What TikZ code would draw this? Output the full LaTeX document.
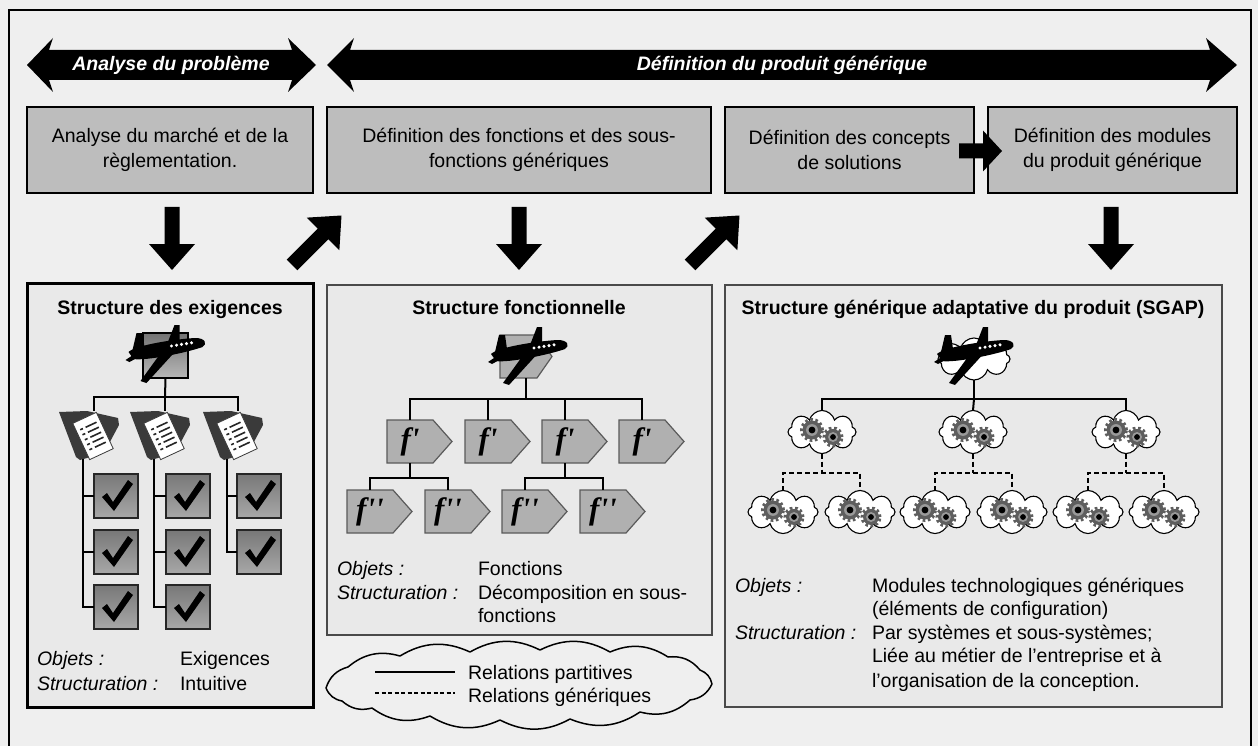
\documentclass[tikz,border=0pt]{standalone}
\usepackage{fontspec}
\setmainfont{Liberation Sans}
\newfontfamily\fserif{Liberation Serif}
\usetikzlibrary{shapes.symbols,calc}

\definecolor{bg}{HTML}{EFEFEF}
\definecolor{panelfill}{HTML}{E9E9E9}
\definecolor{stepgray}{HTML}{BDBDBD}
\definecolor{fgray}{HTML}{B0B0B0}
\definecolor{fborder}{HTML}{5A5A5A}
\definecolor{geargray}{HTML}{5E5E5E}
\definecolor{gearlight}{HTML}{9A9A9A}
\definecolor{docdark}{HTML}{3A3A3A}
\definecolor{ckdark}{HTML}{787878}
\definecolor{cklight}{HTML}{A8A8A8}
\definecolor{pbord}{HTML}{4A4A4A}

% block arrow along a direction: start, angle, length, head length, head half-width
\newcommand{\flowarrow}[5]{%
  \fill[shift={#1}, rotate=#2] (0,-7.5) -- (#3-#4,-7.5) -- (#3-#4,-#5) -- (#3,0)
    -- (#3-#4,#5) -- (#3-#4,7.5) -- (0,7.5) -- cycle;}

% function block: name, x, y, label
\newcommand{\fblock}[4]{%
  \filldraw[fill=fgray, draw=fborder, line width=1.2pt]
    (#2-23,#3-21.5) -- (#2+23,#3-21.5) -- (#2+42,#3) -- (#2+23,#3+21.5) -- (#2-23,#3+21.5) -- cycle;
  \node[ftxt] (#1) at (#2,#3) {#4};}

\tikzset{
  stepbox/.style={draw=black, line width=1.3pt, fill=stepgray, minimum height=86pt,
    align=center, font=\fontsize{19.5pt}{25pt}\selectfont},
  phase/.style={text=white, font=\fontsize{19.5pt}{23.5pt}\selectfont\bfseries\itshape},
  heading/.style={anchor=base, font=\fontsize{19.5pt}{23.5pt}\selectfont\bfseries},
  desc/.style={anchor=base west, font=\fontsize{19.5pt}{23.5pt}\selectfont},
  descit/.style={anchor=base west, font=\fontsize{19.5pt}{23.5pt}\selectfont\itshape},
  link/.style={line width=2pt, draw=black},
  genlink/.style={line width=2pt, draw=black, dash pattern=on 5pt off 3pt},
  checkbox/.style={draw=black!85, line width=2.2pt, top color=ckdark, bottom color=cklight,
    minimum width=44pt, minimum height=44pt},
  ftxt/.style={minimum width=46pt, minimum height=43pt,
    font=\fserif\bfseries\itshape\fontsize{31pt}{31pt}\selectfont},
  gcloud/.style={cloud, cloud puffs=8, cloud ignores aspect, draw=black, line width=1.1pt,
    fill=white, minimum width=70pt, minimum height=43pt},
  plane/.pic={
    \fill[black] (-37,-5) .. controls (-30,-12) and (10,-18) .. (30,-19)
      .. controls (40,-19) and (42,-13) .. (37,-10)
      .. controls (20,-4) and (-20,4) .. (-32,2) -- cycle;
    \fill[black] (-33,-7) -- (-29,-24) -- (-23,-24) -- (-21,-10) -- cycle;
    \fill[black] (2,-14) -- (9,-32) -- (14,-32) -- (14,-16) -- cycle;
    \fill[black] (-4,-5) -- (-25,24) -- (-19,26) -- (12,-8) -- cycle;
    \fill[black] (-31,-3) -- (-40,3) -- (-36,5) -- (-25,-1) -- cycle;
    \foreach \i in {0,...,4} \fill[white] (6+5*\i,-11-0.8*\i) circle[radius=1.7pt];
  },
  clipdoc/.pic={
    \fill[docdark] (-30,-23) -- (-2,-24) -- (29,-17) -- (30,-10) -- (15,18) -- (-9,25) -- (-13,22) -- cycle;
    \begin{scope}[shift={(4,1)}, rotate=25]
      \filldraw[fill=white, draw=docdark, line width=0.8pt] (-13,-20) rectangle (13,20);
      \foreach \yy in {-11,-5.5,0,5.5,11} {
        \draw[line width=1.6pt, black!85] (-9,\yy) -- (-6,\yy);
        \draw[line width=1.6pt, black!85] (-3,\yy) -- (9,\yy);}
    \end{scope}
  },
  tick/.pic={
    \fill[black] (-15,1) -- (-10,-3) -- (-4,6) -- (11,-16) -- (16,-12) -- (-3,15) -- cycle;
  },
  gear/.pic={
    \draw[geargray, line width=3pt, dash pattern=on 2.6pt off 2.6pt] (0,0) circle[radius=#1pt+1pt];
    \fill[geargray] (0,0) circle[radius=#1pt];
    \fill[gearlight] (0,0) circle[radius=0.62*#1pt];
    \fill[black] (0,0) circle[radius=0.36*#1pt];
  },
}

\begin{document}
\begin{tikzpicture}[x=1pt, y=-1pt, every node/.style={inner sep=0pt, outer sep=0pt}]
\useasboundingbox (0,0) rectangle (1258,746);
\fill[bg] (0,0) rectangle (1258,746);
\draw[line width=1.5pt] (9,746) -- (9,10) -- (1251,10) -- (1251,746);

% phase arrows
\fill (27,65) -- (53,38) -- (49,50) -- (292,50) -- (288,38) -- (316,65) -- (288,92)
  -- (292,80) -- (49,80) -- (53,92) -- cycle;
\node[phase] (ph1) at (171,65) {Analyse du problème};
\fill (327,65) -- (354,38) -- (350,50) -- (1210,50) -- (1206,38) -- (1237,65) -- (1206,92)
  -- (1210,80) -- (350,80) -- (354,92) -- cycle;
\node[phase] (ph2) at (782,65) {Définition du produit générique};

% process steps
\node[stepbox, minimum width=286pt] (s1) at (170,150) {Analyse du marché et de la\\règlementation.};
\node[stepbox, minimum width=384pt] (s2) at (519,150) {Définition des fonctions et des sous-\\fonctions génériques};
\node[stepbox, minimum width=249pt] (s3) at (849.5,150) {Définition des concepts\\de solutions};
\node[stepbox, minimum width=249pt] (s4) at (1112.5,150) {Définition des modules\\du produit générique};

% flow arrows
\flowarrow{(172,207)}{-90}{63}{26}{23}
\flowarrow{(292,265)}{45}{70}{26}{23}
\flowarrow{(519,207)}{-90}{63}{26}{23}
\flowarrow{(690,265)}{45}{70}{26}{23}
\flowarrow{(1111,207)}{-90}{63}{26}{23}
\flowarrow{(959,151)}{0}{43}{19}{20.5}

% structure panels
\node[draw=black, line width=3pt, fill=panelfill, minimum width=286pt, minimum height=424pt] (panA) at (170,495) {};
\node[draw=pbord, line width=2pt, fill=panelfill, minimum width=385pt, minimum height=350pt] (panB) at (519.5,460) {};
\node[draw=pbord, line width=2.2pt, fill=panelfill, minimum width=497pt, minimum height=422pt] (panC) at (973.5,496) {};

\node[heading] (hA) at (170,314) {Structure des exigences};
\node[heading] (hB) at (519,314) {Structure fonctionnelle};
\node[heading] (hC) at (973,314) {Structure générique adaptative du produit (SGAP)};

% ---- requirements tree
\node[draw=black, line width=1.5pt, top color=black!55, bottom color=black!28,
  minimum width=45pt, minimum height=45pt] (planeA) at (165.5,355.5) {};
\pic at (165.5,357) {plane};
\foreach \n/\x in {cA/89, cB/160, cC/233} {
  \node[minimum width=56pt, minimum height=48pt] (\n) at (\x,435) {};
  \pic at (\x,435) {clipdoc};
}
\coordinate (busA) at (165,397);
\draw[link] (planeA.south) -- (busA);
\draw[link] ([xshift=5pt]cA.north) |- (busA) -| ([xshift=5pt]cC.north);
\draw[link] (busA) -- ([xshift=5pt]cB.north);

\foreach \n/\x/\y in {k11/116/496, k12/116/552, k13/116/607,
                      k21/188/496, k22/188/552, k23/188/607,
                      k31/259/496, k32/259/552} {
  \node[checkbox] (\n) at (\x,\y) {};
  \pic at (\x+1,\y) {tick};
}
\foreach \c/\k in {cA/k11, cA/k12, cA/k13, cB/k21, cB/k22, cB/k23, cC/k31, cC/k32}
  \draw[link] ([xshift=-6pt]\c.south) |- (\k.west);

\node[descit] (oA) at (37,665) {Objets :};
\node[desc] (vA) at (180,665) {Exigences};
\node[descit] (tA) at (37,690) {Structuration :};
\node[desc] (wA) at (180,690) {Intuitive};

% ---- functional tree
\filldraw[fill=fgray, draw=fborder, line width=1.2pt]
  (500,335) -- (537,335) -- (552,356.5) -- (537,378) -- (500,378) -- cycle;
\node[minimum width=52pt, minimum height=43pt] (pB) at (526,356.5) {};
\pic at (528,359) {plane};

\fblock{f1}{410}{441.5}{f'}
\fblock{f2}{488}{441.5}{f'}
\fblock{f3}{565}{441.5}{f'}
\fblock{f4}{642}{441.5}{f'}
\fblock{g1}{370}{511.5}{f''}
\fblock{g2}{448}{511.5}{f''}
\fblock{g3}{525}{511.5}{f''}
\fblock{g4}{603}{511.5}{f''}

\coordinate (busB) at (526,399);
\draw[link] (pB.south) -- (busB);
\draw[link] (f1.north) |- (busB) -| (f4.north);
\draw[link] (f2.north) |- (busB);
\draw[link] (f3.north) |- (busB);
\draw[link] (f1.south) -- ++(0,15) coordinate (sub1);
\draw[link] (g1.north) |- (sub1) -| (g2.north);
\draw[link] (f3.south) -- ++(0,15) coordinate (sub3);
\draw[link] (g3.north) |- (sub3) -| (g4.north);

\node[descit] (oB) at (337,575) {Objets :};
\node[desc] (vB) at (478,575) {Fonctions};
\node[descit] (tB) at (337,599) {Structuration :};
\node[desc] (wB) at (478,599) {Décomposition en sous-};
\node[desc] (wB2) at (478,622) {fonctions};

% ---- generic adaptive structure
\node[gcloud, minimum width=72pt, minimum height=42pt] (pC) at (974,359) {};
\pic at (974,359) {plane};

\foreach \n/\x/\y/\w in {m1/822/432/68, m2/973/432/68, m3/1126/432/68,
  n1/783/512/70, n2/860/512/70, n3/935/512/70, n4/1012/512/70, n5/1088/512/70, n6/1164/512/70} {
  \node[gcloud, minimum width=\w pt] (\n) at (\x,\y) {};
  \pic at (\x-10,\y-2) {gear=9.5};
  \pic at (\x+11,\y+5) {gear=8};
}
\coordinate (busC) at (974,399);
\draw[link] (pC.south) -- (busC);
\draw[link] (m1.north) |- (busC) -| (m3.north);
\draw[link] (busC) -- (m2.north);
\foreach \m/\a/\b in {m1/n1/n2, m2/n3/n4, m3/n5/n6} {
  \draw[genlink] (\m.south) -- ++(0,19) coordinate (d\m);
  \draw[genlink] (\a.north) |- (d\m) -| (\b.north);
}

\node[descit] (oC) at (735,592) {Objets :};
\node[desc] (vC) at (872,592) {Modules technologiques génériques};
\node[desc] (vC2) at (872,615) {(éléments de configuration)};
\node[descit] (tC) at (735,639) {Structuration :};
\node[desc] (wC) at (872,639) {Par systèmes et sous-systèmes;};
\node[desc] (wC2) at (872,662) {Liée au métier de l'entreprise et à};
\node[desc] (wC3) at (872,687) {l'organisation de la conception.};

% ---- legend cloud
\draw[line width=1.5pt, line join=round]
  (326,688) to[bend left=28] (348,667) to[bend left=28] (400,656)
  to[bend left=28] (470,652) to[bend left=28] (540,650) to[bend left=28] (610,652)
  to[bend left=28] (668,657) to[bend left=28] (700,670) to[bend left=28] (712,684)
  to[bend left=28] (690,700) to[bend left=28] (640,712) to[bend left=28] (570,719)
  to[bend left=28] (500,720) to[bend left=28] (430,716) to[bend left=28] (372,708)
  to[bend left=28] (342,701) to[bend left=28] (326,688) -- cycle;
\coordinate (lp1) at (375,672);
\coordinate (lp2) at (455,672);
\coordinate (lg1) at (375,693);
\coordinate (lg2) at (455,693);
\draw[line width=2pt] (lp1) -- (lp2);
\draw[line width=2pt, dash pattern=on 4pt off 2.5pt] (lg1) -- (lg2);
\node[desc] (lt1) at (468,679) {Relations partitives};
\node[desc] (lt2) at (468,702) {Relations génériques};
\end{tikzpicture}
\end{document}
